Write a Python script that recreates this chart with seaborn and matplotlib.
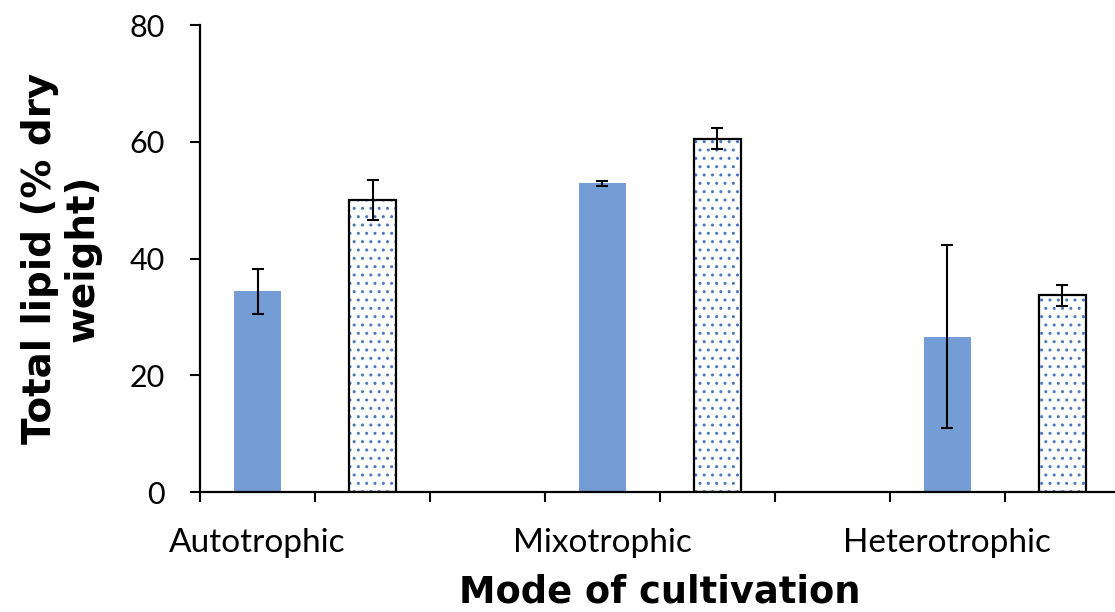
import numpy as np
import pandas as pd
import seaborn as sns
import matplotlib
matplotlib.use("Agg")
import matplotlib.pyplot as plt
from matplotlib.patches import Rectangle

# data
modes = ["Autotrophic", "Mixotrophic", "Heterotrophic"]
series_names = ["solid", "dotted"]
solid_vals = [34.4, 52.9, 26.6]
solid_err = [3.85, 0.4, 15.7]
dotted_vals = [50.0, 60.5, 33.7]
dotted_err = [3.4, 1.8, 1.8]
yticks = [0, 20, 40, 60, 80]

n_slots = 3 * len(modes) - 1   # two bars + one gap per mode (last gap cut off)

rows = []
for i, m in enumerate(modes):
    rows.append({"slot": 3 * i, "mode": m, "series": series_names[0],
                 "lipid": solid_vals[i], "err": solid_err[i]})
    rows.append({"slot": 3 * i + 1, "mode": m, "series": series_names[1],
                 "lipid": dotted_vals[i], "err": dotted_err[i]})
df = pd.DataFrame(rows)

sns.set_style("white")
plt.rcParams["font.family"] = ["Lato", "DejaVu Sans"]
plt.rcParams["text.color"] = "black"
plt.rcParams["axes.labelcolor"] = "black"
plt.rcParams["xtick.color"] = "black"
plt.rcParams["ytick.color"] = "black"

fig = plt.figure(figsize=(11.15, 6.12), dpi=100)
ax = fig.add_axes([0.1794, 0.196, 0.825, 0.763])

sns.barplot(data=df, x="slot", y="lipid", hue="series", order=list(range(n_slots)),
            palette={"solid": "#759dd5", "dotted": "white"}, dodge=False,
            saturation=1, width=0.41, errorbar=None, legend=False, ax=ax)

# dotted bars: blue dot hatch + black outline
for bar in ax.containers[1]:
    bar.set_hatch("..")
    bar.set_edgecolor("#4a78c0")
    bar.set_linewidth(0)
    ax.add_patch(Rectangle(bar.get_xy(), bar.get_width(), bar.get_height(),
                           fill=False, edgecolor="black", linewidth=1.6, zorder=3))
for bar in ax.containers[0]:
    bar.set_linewidth(0)

ax.errorbar(df["slot"], df["lipid"], yerr=df["err"], fmt="none",
            ecolor="black", elinewidth=1.5, capsize=4.5, capthick=1.5, zorder=4)

ax.set_ylim(0, 80)
ax.set_yticks(yticks)
ax.set_xlim(-0.5, n_slots - 0.5)
ax.set_xticks([3 * i for i in range(len(modes))])
ax.set_xticklabels(modes)
ax.set_xticks(np.arange(-0.5, n_slots, 1), minor=True)
ax.tick_params(axis="x", which="major", length=0, labelsize=24, pad=26)
ax.tick_params(axis="x", which="minor", length=7.5, width=1.5, direction="out",
               color="black", bottom=True)
ax.tick_params(axis="y", length=7.5, width=1.5, direction="out", color="black",
               labelsize=22, pad=18, left=True)

for s in ["top", "right"]:
    ax.spines[s].set_visible(False)
for s in ["left", "bottom"]:
    ax.spines[s].set_color("black")
    ax.spines[s].set_linewidth(1.6)

ax.set_xlabel("Mode of cultivation", fontsize=26.5, fontweight="bold",
              family="DejaVu Sans", labelpad=11)
ax.set_ylabel("Total lipid (% dry\nweight)", fontsize=28, fontweight="bold",
              family="DejaVu Sans", labelpad=20, linespacing=1.15)

fig.savefig("out.png", dpi=100)
